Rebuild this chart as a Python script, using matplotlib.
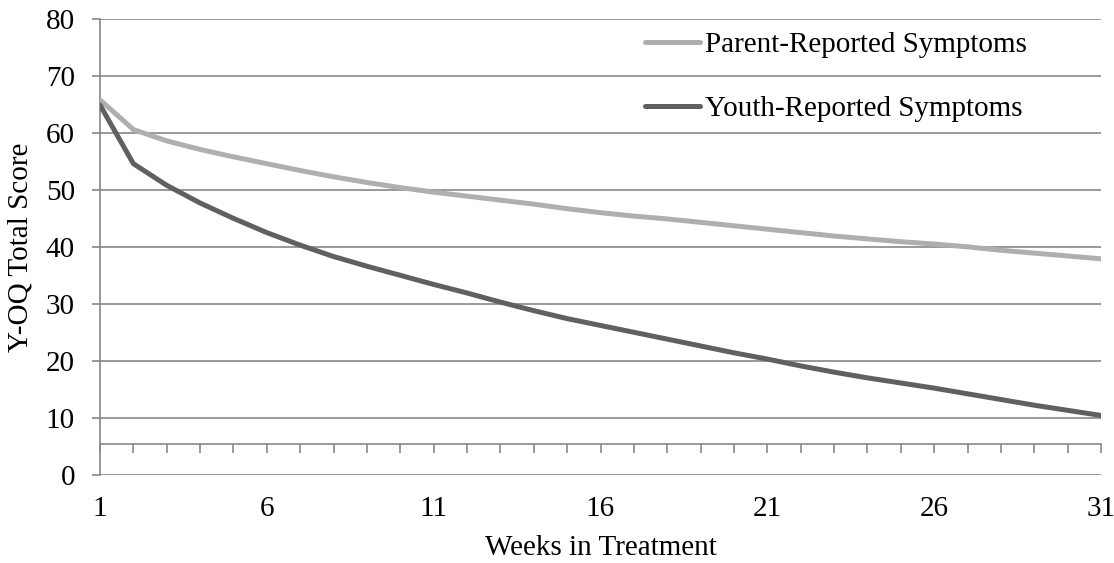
import matplotlib.pyplot as plt
import numpy as np

plt.rcParams['font.family'] = ['Liberation Serif', 'DejaVu Serif']

weeks = np.arange(1, 32)
parent = [65.8, 60.6, 58.6, 57.1, 55.8, 54.6, 53.4, 52.3, 51.3, 50.4,
          49.6, 48.9, 48.2, 47.5, 46.7, 46.0, 45.4, 44.9, 44.3, 43.7,
          43.1, 42.5, 41.9, 41.4, 40.9, 40.5, 40.0, 39.4, 38.9, 38.4, 37.9]
youth = [64.9, 54.6, 50.8, 47.7, 45.0, 42.5, 40.3, 38.3, 36.6, 35.0,
         33.4, 31.9, 30.3, 28.8, 27.4, 26.2, 25.0, 23.8, 22.6, 21.4,
         20.3, 19.1, 18.0, 17.0, 16.1, 15.2, 14.2, 13.2, 12.2, 11.3, 10.4]
x_labels = [1, 6, 11, 16, 21, 26, 31]
y_ticks = np.arange(0, 81, 10)
axis_cross = 5.4

grid_c = '#878787'
fs = 21

fig = plt.figure(figsize=(11.14, 5.63), dpi=100)
ax = fig.add_axes([100 / 1114, 1 - 474.7 / 563, 1001 / 1114, (474.7 - 19) / 563])

ax.plot(weeks, parent, color='#afafaf', linewidth=3.6, label='Parent-Reported Symptoms',
        solid_capstyle='round', solid_joinstyle='round', zorder=3)
ax.plot(weeks, youth, color='#606060', linewidth=3.6, label='Youth-Reported Symptoms',
        solid_capstyle='round', solid_joinstyle='round', zorder=3)

ax.set_xlim(1, 31)
ax.set_ylim(0, 80)
ax.set_yticks(y_ticks)
ax.yaxis.grid(True, color=grid_c, linewidth=1.2)
ax.set_axisbelow(True)

for s in ['top', 'right']:
    ax.spines[s].set_visible(False)
ax.spines['left'].set_color(grid_c)
ax.spines['left'].set_linewidth(1.2)
ax.spines['bottom'].set_position(('data', axis_cross))
ax.spines['bottom'].set_color(grid_c)
ax.spines['bottom'].set_linewidth(1.2)

ax.set_xticks(weeks)
ax.tick_params(axis='x', direction='out', length=6.5, width=1.2, color=grid_c,
               labelbottom=False)
ax.tick_params(axis='y', direction='out', length=6, width=1.2, color=grid_c,
               labelsize=fs, pad=12)

sec = ax.secondary_xaxis(0)
sec.set_xticks(x_labels)
sec.tick_params(length=0, labelsize=fs, pad=15.5)
sec.spines['bottom'].set_visible(False)
sec.set_xlabel('Weeks in Treatment', fontsize=fs, labelpad=9)

ax.set_ylabel('Y-OQ Total Score', fontsize=fs, labelpad=9)

ax.legend(loc='upper left', bbox_to_anchor=(645 / 1114, 1 - 32 / 563),
          bbox_transform=fig.transFigure, frameon=False, fontsize=fs,
          handlelength=1.9, handletextpad=0.17, labelspacing=1.28,
          borderpad=0, borderaxespad=0)

fig.savefig('out.png', dpi=100)
